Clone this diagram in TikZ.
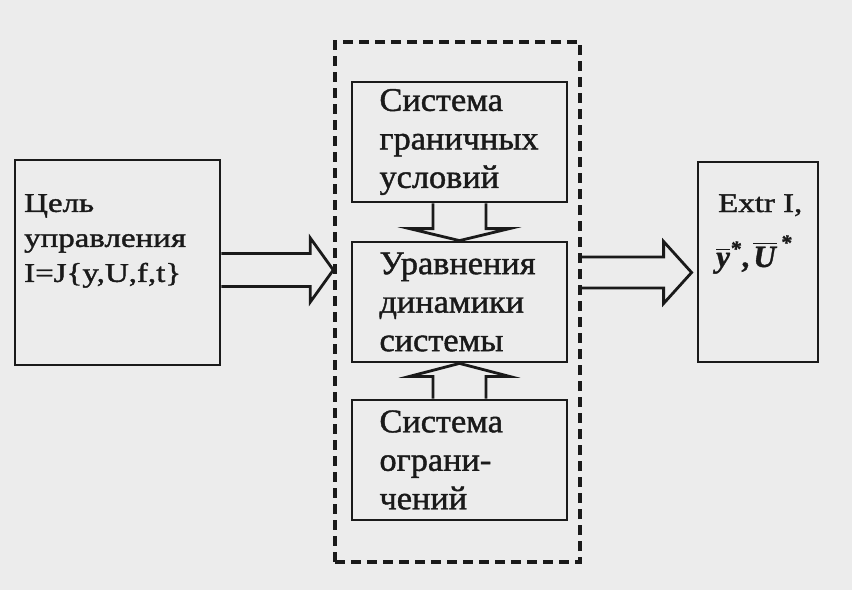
\documentclass[tikz,border=0pt]{standalone}
\usepackage{fontspec}
\usepackage{amsmath}
\setmainfont{Liberation Serif}
\newfontfamily\boxfont[FakeStretch=1.04,FakeBold=1.3]{Liberation Serif}
\newfontfamily\sidefont[FakeStretch=1.22,FakeBold=1.4]{Liberation Serif}
\newfontfamily\mathtxtfont[FakeBold=1.2]{Liberation Serif}
\usetikzlibrary{calc}
\definecolor{bgc}{HTML}{ECECEC}
\definecolor{ink}{HTML}{1A1A1A}
\begin{document}
\begin{tikzpicture}[x=1pt,y=-1pt,
  box/.style={draw=ink,line width=2.8pt,inner sep=0pt,minimum width=#1},
  box/.default=215pt,
  midtext/.style={align=left,text width=160pt,
    font=\boxfont\fontsize{33}{38.5}\selectfont,text=ink},
  sidetext/.style={align=left,inner sep=0pt,
    font=\sidefont\fontsize{27}{35}\selectfont,text=ink},
  dashbox/.style={draw=ink,line width=3.4pt,dash pattern=on 10pt off 6pt,inner sep=0pt},
  barrow/.style={draw=ink,line width=2.8pt,line join=miter}]
\fill[bgc] (0,0) rectangle (852,590);
\useasboundingbox (0,0) rectangle (852,590);
% outer dashed frame
\node[dashbox,minimum width=245pt,minimum height=520pt] (D) at (457.5,302) {};
% left box
\node[box=205pt,minimum height=205pt] (L) at (117.5,262.5) {};
\node[sidetext,anchor=north west] (Lt) at (24,194) {Цель\\управления\\I=J\{y,U,f,t\}};
% right box
\node[box=120pt,minimum height=200pt] (R) at (758,262) {};
\node[sidetext,anchor=base west] (Rt) at (718,212) {Extr I,};
\node[inner sep=0pt,anchor=base west,text=ink,font=\mathtxtfont\fontsize{31}{35}\selectfont] (Rt2) at (716,267)
  {$\overline{\textbf{\textit{y}}}^{\textbf{\textit{*}}}$\textbf{,}$\,\overline{\textbf{\textit{U}}}^{\,\textbf{\textit{*}}}$};
% inner boxes
\node[box,minimum height=120pt,midtext] (T) at (459.5,142) {Система\\граничных\\условий};
\node[box,minimum height=120pt,midtext] (M) at (459.5,302) {Уравнения\\динамики\\системы};
\node[box,minimum height=120pt,midtext] (B) at (459.5,460) {Система\\ограни-\\чений};
% anchor heights for horizontal arrows
\coordinate (ya) at (0,270);
\coordinate (yb) at (0,272.5);
\coordinate (a1s) at (L.east |- ya);
\coordinate (a1e) at (D.west |- ya);
\coordinate (a2s) at (D.east |- yb);
\coordinate (a2e) at (R.west |- yb);
% left block arrow
\draw[barrow] ($(a1s)+(0,-16.5)$) -- ($(a1e)+(-23,-16.5)$) -- ($(a1e)+(-23,-32)$)
  -- (a1e) -- ($(a1e)+(-23,32)$) -- ($(a1e)+(-23,16.5)$) -- ($(a1s)+(0,16.5)$);
% right block arrow
\draw[barrow] ($(a2s)+(0,-15.5)$) -- ($(a2e)+(-33,-15.5)$) -- ($(a2e)+(-33,-31)$)
  -- ($(a2e)+(-5,0)$) -- ($(a2e)+(-33,31)$) -- ($(a2e)+(-33,15.5)$) -- ($(a2s)+(0,15.5)$);
% down block arrow
\draw[barrow] ($(T.south)+(-26.5,0)$) -- ($(M.north)+(-26.5,-12)$) -- ($(M.north)+(-50,-12)$)
  -- (M.north) -- ($(M.north)+(50,-12)$) -- ($(M.north)+(26.5,-12)$) -- ($(T.south)+(26.5,0)$);
% up block arrow
\draw[barrow] ($(B.north)+(-26.5,0)$) -- ($(M.south)+(-26.5,13)$) -- ($(M.south)+(-50,13)$)
  -- (M.south) -- ($(M.south)+(50,13)$) -- ($(M.south)+(26.5,13)$) -- ($(B.north)+(26.5,0)$);
\end{tikzpicture}
\end{document}
